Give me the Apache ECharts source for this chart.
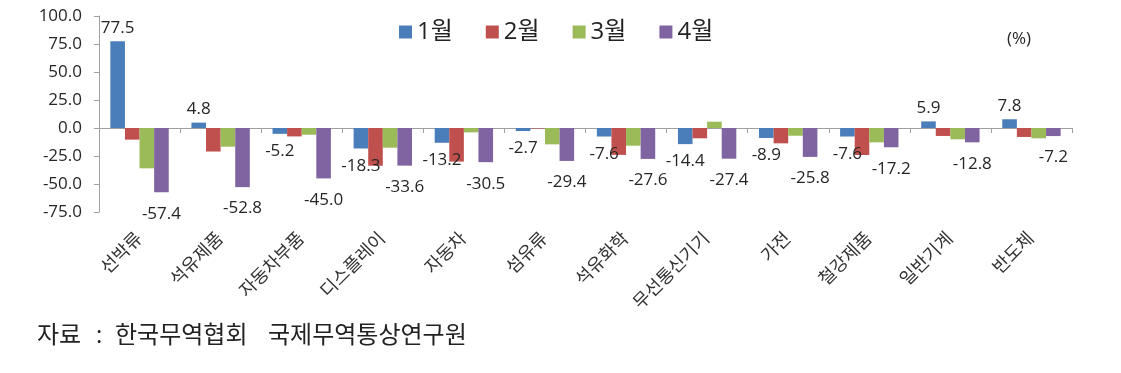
<!DOCTYPE html>
<html>
<head>
<meta charset="utf-8">
<script src="https://cdn.jsdelivr.net/npm/echarts@6/dist/echarts.min.js"></script>
<style>
html,body{margin:0;padding:0;background:#fff;}
#c{width:1121px;height:373px;}
</style>
</head>
<body>
<div id="c"></div>
<script>
const categories = ['선박류','석유제품','자동차부품','디스플레이','자동차','섬유류','석유화학','무선통신기기','가전','철강제품','일반기계','반도체'];
const seriesNames = ['1월','2월','3월','4월'];
const jan = [77.5, 4.8, -5.2, -18.3, -13.2, -2.7, -7.6, -14.4, -8.9, -7.6, 5.9, 7.8];
const feb = [-10.4, -21.0, -7.5, -33.7, -30.0, -0.4, -24.0, -9.2, -13.7, -24.1, -7.1, -8.0];
const mar = [-36.0, -16.7, -6.0, -17.6, -3.9, -14.6, -15.8, 5.6, -6.9, -12.8, -10.1, -9.2];
const apr = [-57.4, -52.8, -45.0, -33.6, -30.5, -29.4, -27.6, -27.4, -25.8, -17.2, -12.8, -7.2];
const yTicks = [-75, -50, -25, 0, 25, 50, 75, 100];
const sourceParts = ['자료', ':', '한국무역협회', '국제무역통상연구원'];
const unitText = '(%)';

const FONT = "'Open Sans', 'Noto Sans CJK KR', sans-serif";
const colors = ['#4a7ebb', '#c0504d', '#9bbb59', '#8064a2'];

function labeled(values, posDist, negDist) {
  return values.map(v => ({
    value: v,
    label: {
      show: true,
      position: v >= 0 ? 'top' : 'bottom',
      distance: v >= 0 ? posDist : negDist
    }
  }));
}

const chart = echarts.init(document.getElementById('c'), null, {renderer: 'canvas'});
const labelStyle = {
  fontFamily: FONT, fontSize: 17, color: '#262626',
  formatter: p => Number(p.value).toFixed(1)
};

chart.setOption({
  animation: false,
  color: colors,
  textStyle: {fontFamily: FONT},
  legend: {
    data: seriesNames,
    left: 394, top: 15,
    icon: 'rect', itemWidth: 13, itemHeight: 13, itemGap: 33,
    textStyle: {fontFamily: FONT, fontSize: 24, color: '#222'}
  },
  grid: {left: 99, right: 49, top: 16, bottom: 161, containLabel: false},
  xAxis: [
    {
      type: 'category', data: categories, position: 'bottom',
      axisLine: {onZero: true, lineStyle: {color: '#a0a0a0', width: 1}},
      axisTick: {show: true, length: 5, interval: 0, lineStyle: {color: '#a0a0a0'}},
      axisLabel: {show: false}
    },
    {
      type: 'category', data: categories, position: 'bottom',
      axisLine: {show: false, onZero: false},
      axisTick: {show: false},
      axisLabel: {show: true, interval: 0, rotate: 45, margin: 24,
        fontFamily: FONT, fontSize: 18, color: '#333'}
    }
  ],
  yAxis: {
    type: 'value', min: yTicks[0], max: yTicks[yTicks.length - 1], interval: 25,
    axisLine: {show: true, lineStyle: {color: '#a0a0a0'}},
    axisTick: {show: true, length: 5, lineStyle: {color: '#a0a0a0'}},
    splitLine: {show: false},
    axisLabel: {margin: 17, fontFamily: FONT, fontSize: 17, color: '#262626',
      formatter: v => v.toFixed(1)}
  },
  series: [
    {name: seriesNames[0], type: 'bar', data: labeled(jan, 5, 9), barGap: '0%', barCategoryGap: '28%', label: labelStyle},
    {name: seriesNames[1], type: 'bar', data: feb, barGap: '0%', barCategoryGap: '28%'},
    {name: seriesNames[2], type: 'bar', data: mar, barGap: '0%', barCategoryGap: '28%'},
    {name: seriesNames[3], type: 'bar', data: labeled(apr, 5, 13), barGap: '0%', barCategoryGap: '28%', label: labelStyle}
  ],
  graphic: [
    {type: 'text', left: 1007, top: 31, style: {text: unitText, fontFamily: FONT, fontSize: 17, fill: '#262626'}},
    {type: 'text', left: 37, top: 324, style: {text: sourceParts[0], fontFamily: FONT, fontSize: 24, fill: '#222'}},
    {type: 'text', left: 96, top: 324, style: {text: sourceParts[1], fontFamily: FONT, fontSize: 24, fill: '#222'}},
    {type: 'text', left: 115, top: 324, style: {text: sourceParts[2], fontFamily: FONT, fontSize: 24, fill: '#222'}},
    {type: 'text', left: 268, top: 324, style: {text: sourceParts[3], fontFamily: FONT, fontSize: 24, fill: '#222'}}
  ]
});
</script>
</body>
</html>
